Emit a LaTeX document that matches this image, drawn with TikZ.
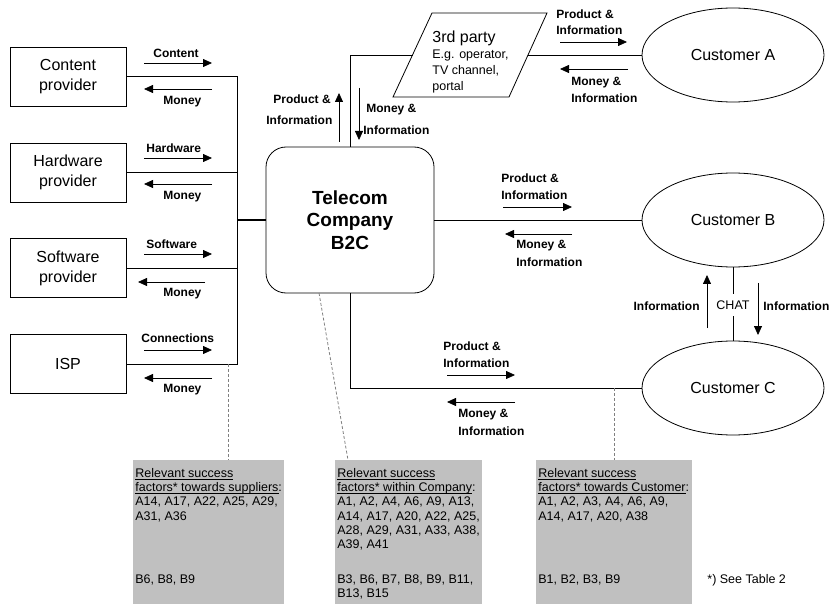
\documentclass[tikz,border=0pt]{standalone}
\usepackage{fontspec}
\setmainfont{Liberation Sans}
\usetikzlibrary{arrows.meta,shapes.geometric,calc}
\definecolor{panelgray}{HTML}{C0C0C0}
\definecolor{leadgray}{HTML}{808080}
% underline at a fixed depth below the baseline
\newcommand\undl[1]{\setbox0\hbox{#1}\rlap{\rule[-2.2pt]{\wd0}{0.8pt}}\box0}

\begin{document}
\begin{tikzpicture}[x=1pt,y=-1pt,
  line width=0.8pt,
  party/.style={draw, rectangle, minimum width=116pt, minimum height=59pt,
    inner sep=0, align=center, font=\fontsize{16}{20}\selectfont},
  customer/.style={draw, ellipse, minimum width=182pt, minimum height=94pt,
    inner sep=0, font=\fontsize{16}{20}\selectfont},
  flow/.style={font=\bfseries\fontsize{12}{14}\selectfont, inner sep=0, anchor=base west},
  flowR/.style={flow, anchor=base east},
  flowarrow/.style={-{Triangle[length=9pt,width=8pt]}, line width=0.8pt},
  panel/.style={fill=panelgray, draw=none, anchor=north west, inner sep=0,
    minimum height=144pt},
  paneltext/.style={anchor=north west, inner sep=0, align=left,
    font=\fontsize{12.5}{14.2}\selectfont},
  plain/.style={anchor=base west, inner sep=0, font=\fontsize{12.5}{14}\selectfont},
  lead/.style={draw=leadgray, dash pattern=on 3pt off 2pt, line width=0.8pt},
]
\useasboundingbox (0,0) rectangle (833,604);

% ---------- suppliers ----------
\node[party] (cp)  at (68,76.5)  {Content\\provider};
\node[party] (hw)  at (68,172.5) {Hardware\\provider};
\node[party] (sw)  at (68,268)   {Software\\provider};
\node[party] (isp) at (68,364)   {ISP};

% ---------- company ----------
\node[draw, rounded corners=20pt, minimum width=168pt, minimum height=146pt,
  align=center, font=\bfseries\fontsize{19}{22.5}\selectfont] (tel) at (350,220)
  {Telecom\\Company\\B2C};

% ---------- 3rd party ----------
\coordinate (pTL) at (432,13);
\coordinate (pTR) at (547,13);
\coordinate (pBR) at (509,97);
\coordinate (pBL) at (393,97);
\draw (pTL) -- (pTR) -- (pBR) -- (pBL) -- cycle;
\coordinate (p3l) at ($(pTL)!0.5!(pBL)$);
\coordinate (p3r) at ($(pTR)!0.5!(pBR)$);
\node[anchor=base west, inner sep=0, font=\fontsize{16}{18}\selectfont] (t3a) at (432,42.7) {3rd party};
\node[plain] (t3b) at (432,58.5) {E.g. operator,};
\node[plain] (t3c) at (432,75) {TV channel,};
\node[plain] (t3d) at (432,91) {portal};

% ---------- customers ----------
\node[customer] (ca) at (733,55)  {Customer A};
\node[customer] (cb) at (733,220) {Customer B};
\node[customer] (cc) at (733,388) {Customer C};
\node[inner sep=0, minimum height=22pt, font=\fontsize{12.5}{14}\selectfont] (chat) at (733,305) {CHAT};

% ---------- connections ----------
\coordinate (tj) at (237,220);
\draw (cp.east) -- (cp.east -| tj) -- (isp.east -| tj) -- (isp.east);
\draw (hw.east) -- (hw.east -| tj);
\draw (sw.east) -- (sw.east -| tj);
\draw[line width=1.4pt] (tj) -- (tel.west);
\draw (tel.north) |- (p3l);
\draw (p3r) -- (ca.west);
\draw (tel.east) -- (cb.west);
\draw (tel.south) |- (cc.west);
\draw (cb) -- (chat) -- (cc);

% ---------- supplier flows ----------
\draw[flowarrow] (144,63) -- (212,63);
\node[flow] (lc) at (153,57.5) {Content};
\draw[flowarrow] (212,89) -- (144,89);
\node[flow] (lm1) at (163,104.5) {Money};
\draw[flowarrow] (144,158) -- (212,158);
\node[flow] (lh) at (146,152.5) {Hardware};
\draw[flowarrow] (212,184) -- (144,184);
\node[flow] (lm2) at (163,199.5) {Money};
\draw[flowarrow] (144,254) -- (212,254);
\node[flow] (ls) at (146,248.5) {Software};
\draw[flowarrow] (205,282) -- (138,282);
\node[flow] (lm3) at (163,296.5) {Money};
\draw[flowarrow] (144,350) -- (212,350);
\node[flow] (lcn) at (141,342.5) {Connections};
\draw[flowarrow] (212,378) -- (144,378);
\node[flow] (lm4) at (163,392.5) {Money};

% ---------- company / 3rd party flows ----------
\draw[flowarrow] (339,142) -- (339,93);
\node[flow] (lu1) at (273,103.3) {Product \&};
\node[flow] (lu2) at (266,124.3) {Information};
\draw[flowarrow] (359,88) -- (359,140);
\node[flow] (ld1) at (366,112.3) {Money \&};
\node[flow] (ld2) at (363,134.3) {Information};

% ---------- customer A flows ----------
\node[flow] (la1) at (556,18.3) {Product \&};
\node[flow] (la2) at (556,34.3) {Information};
\draw[flowarrow] (560,42) -- (627,42);
\draw[flowarrow] (628,69) -- (560,69);
\node[flow] (la3) at (571,85.3) {Money \&};
\node[flow] (la4) at (571,102.3) {Information};

% ---------- customer B flows ----------
\node[flow] (lb1) at (501,182.3) {Product \&};
\node[flow] (lb2) at (501,199.3) {Information};
\draw[flowarrow] (503,207) -- (572,207);
\draw[flowarrow] (572,234) -- (505,234);
\node[flow] (lb3) at (516,248.3) {Money \&};
\node[flow] (lb4) at (516,266.3) {Information};

% ---------- chat flows ----------
\draw[flowarrow] (707,328) -- (707,275);
\node[flowR] (lch1) at (700,310.3) {Information};
\draw[flowarrow] (758,283) -- (758,335);
\node[flow] (lch2) at (763,310.3) {Information};

% ---------- customer C flows ----------
\node[flow] (lcc1) at (443,350.3) {Product \&};
\node[flow] (lcc2) at (443,367.3) {Information};
\draw[flowarrow] (447,375) -- (515,375);
\draw[flowarrow] (515,402) -- (447,402);
\node[flow] (lcc3) at (458,417.3) {Money \&};
\node[flow] (lcc4) at (458,435.3) {Information};

% ---------- success factor panels ----------
\node[panel, minimum width=151pt] (p1) at (133,460) {};
\node[panel, minimum width=147pt] (p2) at (335,460) {};
\node[panel, minimum width=156pt] (p3) at (536,460) {};

\node[paneltext] (p1a) at (135,468) {\undl{Relevant success}\\
  \undl{factors* towards suppliers}:\\ A14, A17, A22, A25, A29,\\ A31, A36};
\node[paneltext] (p1b) at (135,574.5) {B6, B8, B9};

\node[paneltext] (p2a) at (337,468) {\undl{Relevant success}\\
  \undl{factors* within Company}:\\ A1, A2, A4, A6, A9, A13,\\
  A14, A17, A20, A22, A25,\\ A28, A29, A31, A33, A38,\\ A39, A41};
\node[paneltext] (p2b) at (337,574.5) {B3, B6, B7, B8, B9, B11,\\ B13, B15};

\node[paneltext] (p3a) at (538,468) {\undl{Relevant success}\\
  \undl{factors* towards Customer}:\\ A1, A2, A3, A4, A6, A9,\\ A14, A17, A20, A38};
\node[paneltext] (p3b) at (538,574.5) {B1, B2, B3, B9};

\node[plain] (note) at (707,583.5) {*) See Table 2};

% ---------- leader lines ----------
\coordinate (lead1) at (228,364);
\draw[lead] (lead1) -- (lead1 |- p1.north);
\coordinate (lead2) at (319,293);
\draw[lead] (lead2) -- ($(p2.north west)+(13,0)$);
\coordinate (lead3) at (614,388);
\draw[lead] (lead3) -- (lead3 |- p3.north);
\end{tikzpicture}
\end{document}
